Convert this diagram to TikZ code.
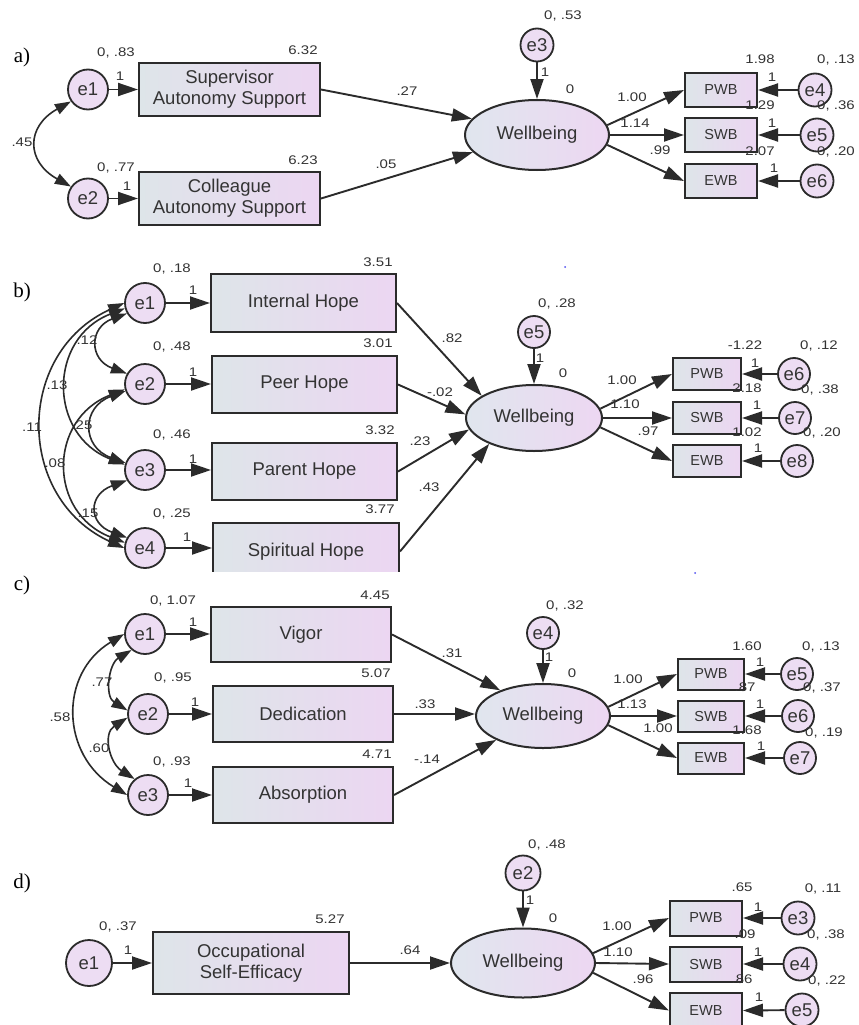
\documentclass[tikz,border=0pt]{standalone}
\usepackage{fontspec}
\setmainfont{Liberation Sans}
\newfontfamily\serifpanel{Liberation Serif}
\newfontfamily\numfont[FakeStretch=1.2]{Liberation Sans}
\usetikzlibrary{shapes.geometric,arrows.meta}
\definecolor{lineC}{HTML}{2B2B2B}
\definecolor{txtC}{HTML}{333333}
\definecolor{boxL}{HTML}{DEE5E9}
\definecolor{boxR}{HTML}{ECD6F2}
\definecolor{latL}{HTML}{E0E6EE}
\definecolor{latR}{HTML}{EDD7F2}
\definecolor{errC}{HTML}{EDDDF3}
\definecolor{dotC}{HTML}{5050F0}
\newcommand{\bfnt}{\fontsize{18.5}{21}\selectfont}
\newcommand{\ifnt}{\fontsize{14.5}{16}\selectfont}
\newcommand{\nfnt}{\numfont\fontsize{12.5}{14}\selectfont}
\newcommand{\pfnt}{\serifpanel\fontsize{21}{24}\selectfont}
\tikzset{
  obs/.style={rectangle, draw=lineC, line width=2pt, left color=boxL, right color=boxR, text=txtC, font=\bfnt, align=center, inner sep=0pt},
  ind/.style={obs, font=\ifnt},
  err/.style={circle, draw=lineC, line width=1.8pt, fill=errC, text=txtC, font=\bfnt, inner sep=0pt},
  lat/.style={ellipse, draw=lineC, line width=2pt, left color=latL, right color=latR, text=txtC, font=\bfnt, inner sep=0pt},
  lab/.style={font=\nfnt, text=txtC, inner sep=0pt},
  pth/.style={draw=lineC, line width=1.9pt, -{Triangle[length=20pt,width=13pt]}},
  cov/.style={draw=lineC, line width=1.6pt, {Triangle[length=16pt,width=11pt]}-{Triangle[length=16pt,width=11pt]}},
  plab/.style={font=\pfnt, text=black, inner sep=0pt}
}
\begin{document}
\begin{tikzpicture}[x=1pt,y=-1pt]
\useasboundingbox[fill=white] (0,0) rectangle (859,1025);
% ================= panel a =================
\node[plab] (pa) at (22,57) {a)};
\node[obs, minimum width=181pt, minimum height=53pt] (asup) at (229.5,89.5) {Supervisor\\Autonomy Support};
\node[obs, minimum width=181pt, minimum height=53pt] (acol) at (229.5,198.5) {Colleague\\Autonomy Support};
\node[err, minimum size=40pt] (ae1) at (88,89.5) {e1};
\node[err, minimum size=40pt] (ae2) at (88,198.5) {e2};
\node[lat, minimum width=144pt, minimum height=70pt] (awb) at (537,135) {Wellbeing};
\node[err, minimum size=33pt] (ae3) at (537,45) {e3};
\node[ind, minimum width=72pt, minimum height=34pt] (apwb) at (721,90) {PWB};
\node[ind, minimum width=72pt, minimum height=34pt] (aswb) at (721,135) {SWB};
\node[ind, minimum width=72pt, minimum height=34pt] (aewb) at (721,181) {EWB};
\node[err, minimum size=33pt] (ae4) at (815,90) {e4};
\node[err, minimum size=33pt] (ae5) at (817,135) {e5};
\node[err, minimum size=33pt] (ae6) at (817,181) {e6};
\draw[pth] (ae1) -- (asup);
\draw[pth] (ae2) -- (acol);
\draw[cov] (ae1.215) .. controls +(-45,25) and +(-45,-25) .. (ae2.145);
\draw[pth] (asup.east) -- (awb.166);
\draw[pth] (acol.east) -- (awb.195);
\draw[pth] (ae3) -- (awb);
\draw[pth] (awb.8) -- (apwb.west);
\draw[pth] (awb.east) -- (aswb.west);
\draw[pth] (awb.-8) -- (aewb.west);
\draw[pth] (ae4) -- (apwb.east);
\draw[pth] (ae5) -- (aswb.east);
\draw[pth] (ae6) -- (aewb.east);
\node[lab] (la1) at (116,53) {0, .83};
\node[lab] (la2) at (120,76) {1};
\node[lab] (la3) at (303,50) {6.32};
\node[lab] (la4) at (116,168) {0, .77};
\node[lab] (la5) at (127,186) {1};
\node[lab] (la6) at (303,160) {6.23};
\node[lab] (la7) at (22,142) {.45};
\node[lab] (la8) at (407,91) {.27};
\node[lab] (la9) at (386,164) {.05};
\node[lab] (la10) at (563,16) {0, .53};
\node[lab] (la11) at (545,72) {1};
\node[lab] (la12) at (570,89) {0};
\node[lab] (la13) at (632,97) {1.00};
\node[lab] (la14) at (635,123) {1.14};
\node[lab] (la15) at (660,150) {.99};
\node[lab] (la16) at (760,59) {1.98};
\node[lab] (la17) at (836,60) {0, .13};
\node[lab] (la18) at (772,77) {1};
\node[lab] (la19) at (760,105) {1.29};
\node[lab] (la20) at (836,106) {0, .36};
\node[lab] (la21) at (772,123) {1};
\node[lab] (la22) at (760,151) {2.07};
\node[lab] (la23) at (836,152) {0, .20};
\node[lab] (la24) at (774,168) {1};
% ================= panel b =================
\node[plab] (pb) at (22,292) {b)};
\node[obs, minimum width=185pt, minimum height=58pt] (bih) at (303.5,303) {Internal Hope};
\node[obs, minimum width=185pt, minimum height=57pt] (bpe) at (304.5,384.5) {Peer Hope};
\node[obs, minimum width=185pt, minimum height=57pt] (bpa) at (304.5,471.5) {Parent Hope};
\begin{scope}
\clip (0,230) rectangle (859,571);
\node[obs, minimum width=186pt, minimum height=57pt] (bsh) at (306,551.5) {Spiritual Hope};
\end{scope}
\node[err, minimum size=40pt] (be1) at (145,303) {e1};
\node[err, minimum size=40pt] (be2) at (145,384) {e2};
\node[err, minimum size=40pt] (be3) at (145,470) {e3};
\node[err, minimum size=40pt] (be4) at (145,548) {e4};
\node[lat, minimum width=136pt, minimum height=66pt] (bwb) at (534,418) {Wellbeing};
\node[err, minimum size=32pt] (be5) at (534,332) {e5};
\node[ind, minimum width=68pt, minimum height=32pt] (bpwb) at (707,374) {PWB};
\node[ind, minimum width=68pt, minimum height=32pt] (bswb) at (707,418) {SWB};
\node[ind, minimum width=68pt, minimum height=32pt] (bewb) at (707,461) {EWB};
\node[err, minimum size=32pt] (be6) at (794,374) {e6};
\node[err, minimum size=32pt] (be7) at (795,418) {e7};
\node[err, minimum size=32pt] (be8) at (797,461) {e8};
\draw[pth] (be1) -- (be1 -| bih.west);
\draw[pth] (be2) -- (be2 -| bpe.west);
\draw[pth] (be3) -- (be3 -| bpa.west);
\draw[pth] (be4) -- (be4 -| bsh.west);
\draw[cov] (be1.210) .. controls +(-38,14) and +(-38,-14) .. (be2.150);
\draw[cov] (be2.200) .. controls +(-44,16) and +(-44,-16) .. (be3.160);
\draw[cov] (be3.210) .. controls +(-39,14) and +(-39,-14) .. (be4.150);
\draw[cov] (be1.195) .. controls +(-77,30) and +(-77,-30) .. (be3.165);
\draw[cov] (be2.195) .. controls +(-77,30) and +(-77,-30) .. (be4.165);
\draw[cov] (be1.180) .. controls +(-109,50) and +(-109,-50) .. (be4.180);
\draw[pth] (bih.east) -- (bwb.157);
\draw[pth] (bpe.east) -- (bwb.177);
\draw[pth] (bpa.east) -- (bwb.190);
\draw[pth] (bsh.east) -- (bwb.210);
\draw[pth] (be5) -- (bwb);
\draw[pth] (bwb.8) -- (bpwb.west);
\draw[pth] (bwb.east) -- (bswb.west);
\draw[pth] (bwb.-8) -- (bewb.west);
\draw[pth] (be6) -- (bpwb.east);
\draw[pth] (be7) -- (bswb.east);
\draw[pth] (be8) -- (bewb.east);
\node[lab] (lb1) at (172,269) {0, .18};
\node[lab] (lb2) at (193,290) {1};
\node[lab] (lb3) at (378,262) {3.51};
\node[lab] (lb4) at (172,347) {0, .48};
\node[lab] (lb5) at (193,372) {1};
\node[lab] (lb6) at (378,343) {3.01};
\node[lab] (lb7) at (172,435) {0, .46};
\node[lab] (lb8) at (193,459) {1};
\node[lab] (lb9) at (380,430) {3.32};
\node[lab] (lb10) at (172,514) {0, .25};
\node[lab] (lb11) at (187,537) {1};
\node[lab] (lb12) at (380,509) {3.77};
\node[lab] (lb13) at (87,340) {.12};
\node[lab] (lb14) at (57,385) {.13};
\node[lab] (lb15) at (32,427) {.11};
\node[lab] (lb16) at (82,425) {.25};
\node[lab] (lb17) at (55,463) {.08};
\node[lab] (lb18) at (88,513) {.15};
\node[lab] (lb19) at (452,338) {.82};
\node[lab] (lb20) at (440,392) {-.02};
\node[lab] (lb21) at (420,441) {.23};
\node[lab] (lb22) at (429,487) {.43};
\node[lab] (lb23) at (557,304) {0, .28};
\node[lab] (lb24) at (540,358) {1};
\node[lab] (lb25) at (563,373) {0};
\node[lab] (lb26) at (622,380) {1.00};
\node[lab] (lb27) at (625,404) {1.10};
\node[lab] (lb28) at (648,431) {.97};
\node[lab] (lb29) at (745,345) {-1.22};
\node[lab] (lb30) at (819,346) {0, .12};
\node[lab] (lb31) at (755,363) {1};
\node[lab] (lb32) at (747,388) {2.18};
\node[lab] (lb33) at (820,390) {0, .38};
\node[lab] (lb34) at (757,405) {1};
\node[lab] (lb35) at (747,432) {1.02};
\node[lab] (lb36) at (822,433) {0, .20};
\node[lab] (lb37) at (758,448) {1};
\fill[dotC] (565,267) circle (1pt);
\fill[dotC] (695,573) circle (1pt);
% ================= panel c =================
\node[plab] (pc) at (22,585) {c)};
\node[obs, minimum width=180pt, minimum height=55pt] (cvi) at (301,634.5) {Vigor};
\node[obs, minimum width=180pt, minimum height=56pt] (cde) at (303,714) {Dedication};
\node[obs, minimum width=180pt, minimum height=56pt] (cab) at (303,795) {Absorption};
\node[err, minimum size=40pt] (ce1) at (145,634) {e1};
\node[err, minimum size=40pt] (ce2) at (148,714) {e2};
\node[err, minimum size=40pt] (ce3) at (148,795) {e3};
\node[lat, minimum width=134pt, minimum height=64pt] (cwb) at (543,716) {Wellbeing};
\node[err, minimum size=32pt] (ce4) at (543,633) {e4};
\node[ind, minimum width=66pt, minimum height=31pt] (cpwb) at (711,674) {PWB};
\node[ind, minimum width=66pt, minimum height=31pt] (cswb) at (711,716) {SWB};
\node[ind, minimum width=66pt, minimum height=31pt] (cewb) at (711,758) {EWB};
\node[err, minimum size=32pt] (ce5) at (797,674) {e5};
\node[err, minimum size=32pt] (ce6) at (798,716) {e6};
\node[err, minimum size=32pt] (ce7) at (800,758) {e7};
\draw[pth] (ce1) -- (ce1 -| cvi.west);
\draw[pth] (ce2) -- (ce2 -| cde.west);
\draw[pth] (ce3) -- (ce3 -| cab.west);
\draw[cov] (ce1.230) .. controls +(-23,14) and +(-23,-14) .. (ce2.170);
\draw[cov] (ce2.190) .. controls +(-25,16) and +(-25,-16) .. (ce3.130);
\draw[cov] (ce1.180) .. controls +(-66,40) and +(-66,-40) .. (ce3.180);
\draw[pth] (cvi.east) -- (cwb.149);
\draw[pth] (cde.east) -- (cde.east -| cwb.west);
\draw[pth] (cab.east) -- (cwb.207);
\draw[pth] (ce4) -- (cwb);
\draw[pth] (cwb.8) -- (cpwb.west);
\draw[pth] (cwb.east) -- (cswb.west);
\draw[pth] (cwb.-8) -- (cewb.west);
\draw[pth] (ce5) -- (cpwb.east);
\draw[pth] (ce6) -- (cswb.east);
\draw[pth] (ce7) -- (cewb.east);
\node[lab] (lc1) at (173,601) {0, 1.07};
\node[lab] (lc2) at (193,622) {1};
\node[lab] (lc3) at (375,595) {4.45};
\node[lab] (lc4) at (173,678) {0, .95};
\node[lab] (lc5) at (195,702) {1};
\node[lab] (lc6) at (376,673) {5.07};
\node[lab] (lc7) at (172,762) {0, .93};
\node[lab] (lc8) at (188,783) {1};
\node[lab] (lc9) at (377,754) {4.71};
\node[lab] (lc10) at (102,682) {.77};
\node[lab] (lc11) at (99,748) {.60};
\node[lab] (lc12) at (60,717) {.58};
\node[lab] (lc13) at (452,653) {.31};
\node[lab] (lc14) at (425,704) {.33};
\node[lab] (lc15) at (427,759) {-.14};
\node[lab] (lc16) at (565,606) {0, .32};
\node[lab] (lc17) at (549,657) {1};
\node[lab] (lc18) at (572,673) {0};
\node[lab] (lc19) at (628,679) {1.00};
\node[lab] (lc20) at (632,704) {1.13};
\node[lab] (lc21) at (658,728) {1.00};
\node[lab] (lc22) at (747,646) {1.60};
\node[lab] (lc23) at (821,647) {0, .13};
\node[lab] (lc24) at (760,662) {1};
\node[lab] (lc25) at (745,687) {.87};
\node[lab] (lc26) at (822,688) {0, .37};
\node[lab] (lc27) at (760,704) {1};
\node[lab] (lc28) at (747,730) {1.68};
\node[lab] (lc29) at (824,733) {0, .19};
\node[lab] (lc30) at (761,746) {1};
% ================= panel d =================
\node[plab] (pd) at (22,883) {d)};
\node[obs, minimum width=196pt, minimum height=62pt] (docc) at (251,963) {Occupational\\Self-Efficacy};
\node[err, minimum size=46pt] (de1) at (89,963) {e1};
\node[lat, minimum width=144pt, minimum height=69pt] (dwb) at (523,963) {Wellbeing};
\node[err, minimum size=35pt] (de2) at (523,873) {e2};
\node[ind, minimum width=72pt, minimum height=35pt] (dpwb) at (706,918) {PWB};
\node[ind, minimum width=72pt, minimum height=35pt] (dswb) at (706,964) {SWB};
\node[ind, minimum width=72pt, minimum height=35pt] (dewb) at (706,1010.5) {EWB};
\node[err, minimum size=33pt] (de3) at (798,918) {e3};
\node[err, minimum size=33pt] (de4) at (800,964) {e4};
\node[err, minimum size=33pt] (de5) at (802,1010) {e5};
\draw[pth] (de1) -- (docc);
\draw[pth] (docc) -- (dwb);
\draw[pth] (de2) -- (dwb);
\draw[pth] (dwb.8) -- (dpwb.west);
\draw[pth] (dwb.east) -- (dswb.west);
\draw[pth] (dwb.-8) -- (dewb.west);
\draw[pth] (de3) -- (dpwb.east);
\draw[pth] (de4) -- (dswb.east);
\draw[pth] (de5) -- (dewb.east);
\node[lab] (ld1) at (118,927) {0, .37};
\node[lab] (ld2) at (128,950) {1};
\node[lab] (ld3) at (330,919) {5.27};
\node[lab] (ld4) at (410,950) {.64};
\node[lab] (ld5) at (547,845) {0, .48};
\node[lab] (ld6) at (530,900) {1};
\node[lab] (ld7) at (553,918) {0};
\node[lab] (ld8) at (617,926) {1.00};
\node[lab] (ld9) at (618,952) {1.10};
\node[lab] (ld10) at (643,979) {.96};
\node[lab] (ld11) at (742,887) {.65};
\node[lab] (ld12) at (823,889) {0, .11};
\node[lab] (ld13) at (758,907) {1};
\node[lab] (ld14) at (745,934) {.09};
\node[lab] (ld15) at (826,935) {0, .38};
\node[lab] (ld16) at (758,952) {1};
\node[lab] (ld17) at (742,979) {.86};
\node[lab] (ld18) at (827,981) {0, .22};
\node[lab] (ld19) at (759,997) {1};
\end{tikzpicture}
\end{document}
